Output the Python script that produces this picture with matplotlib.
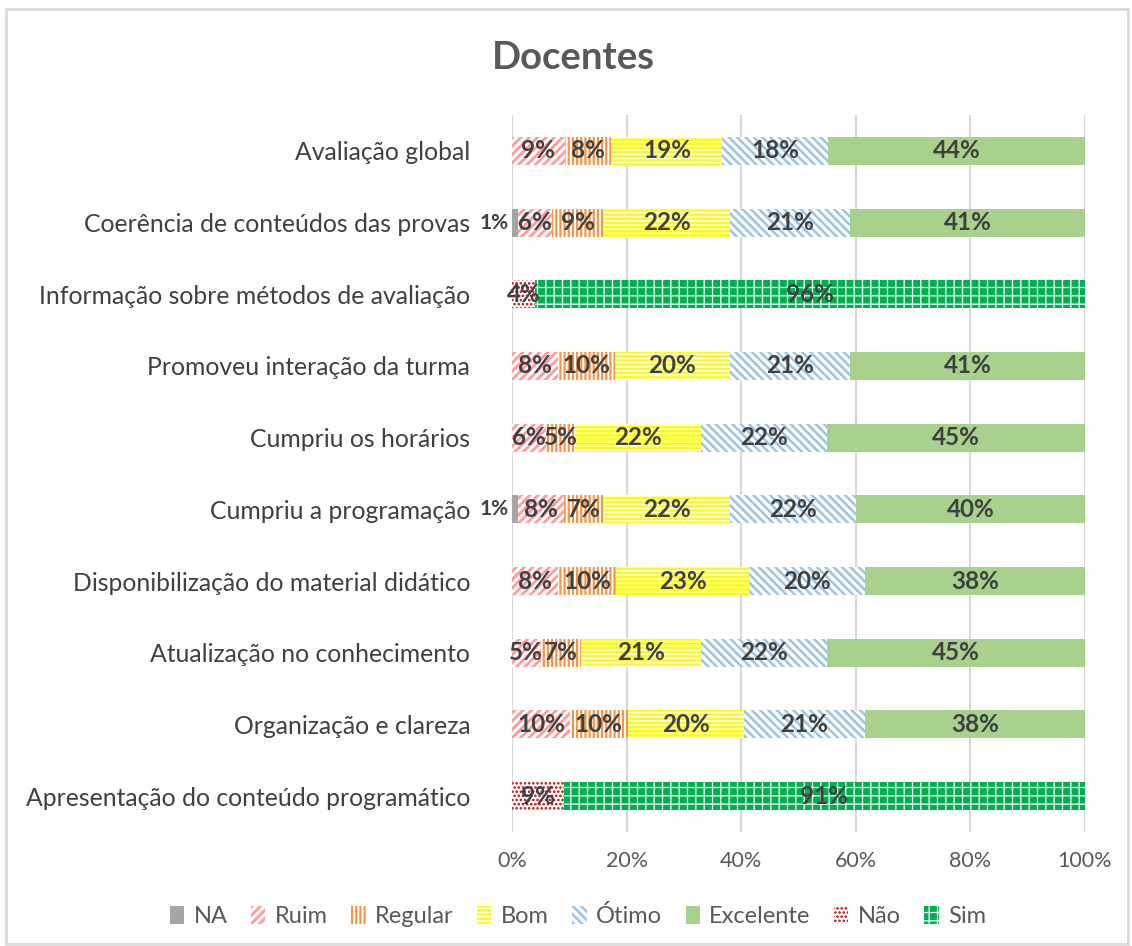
import matplotlib
matplotlib.use("Agg")
import matplotlib.pyplot as plt
import numpy as np
from matplotlib.patches import Rectangle

categories = ["Avaliação global", "Coerência de conteúdos das provas",
              "Informação sobre métodos de avaliação", "Promoveu interação da turma",
              "Cumpriu os horários", "Cumpriu a programação",
              "Disponibilização do material didático", "Atualização no conhecimento",
              "Organização e clareza", "Apresentação do conteúdo programático"]

series_names = ["NA", "Ruim", "Regular", "Bom", "Ótimo", "Excelente", "Não", "Sim"]
na        = [0, 1, 0, 0, 0, 1, 0, 0, 0, 0]
ruim      = [9, 6, 0, 8, 6, 8, 8, 5, 10, 0]
regular   = [8, 9, 0, 10, 5, 7, 10, 7, 10, 0]
bom       = [19, 22, 0, 20, 22, 22, 23, 21, 20, 0]
otimo     = [18, 21, 0, 21, 22, 22, 20, 22, 21, 0]
excelente = [44, 41, 0, 41, 45, 40, 38, 45, 38, 0]
nao       = [0, 0, 4, 0, 0, 0, 0, 0, 0, 9]
sim       = [0, 0, 96, 0, 0, 0, 0, 0, 0, 91]
xticks = [0, 20, 40, 60, 80, 100]

plt.rcParams['font.family'] = ['Lato', 'DejaVu Sans']
plt.rcParams['hatch.linewidth'] = 1.6

styles = [
    dict(facecolor='#A5A5A5', edgecolor='#A5A5A5', hatch=None, hlw=1.6),
    dict(facecolor='white', edgecolor='#FF9B9B', hatch='////', hlw=2.0),
    dict(facecolor='white', edgecolor='#F79646', hatch='||||', hlw=1.6),
    dict(facecolor='white', edgecolor='#FFFF00', hatch='----', hlw=1.8),
    dict(facecolor='white', edgecolor='#9DC3E6', hatch='\\\\\\\\', hlw=1.8),
    dict(facecolor='#A9D18E', edgecolor='#A9D18E', hatch=None, hlw=1.6),
    dict(facecolor='white', edgecolor='#C00000', hatch='....', hlw=1.2),
    dict(facecolor='#00B050', edgecolor='white', hatch='++', hlw=0.9),
]

data = np.array([na, ruim, regular, bom, otimo, excelente, nao, sim], dtype=float)
totals = data.sum(axis=0)
pct = data / totals * 100

fig = plt.figure(figsize=(11.32, 9.46), dpi=100)
ax = fig.add_axes([512/1132, 1-832/946, 573/1132, 717/946])

y = np.arange(len(categories))
left = np.zeros(len(categories))
handles = []
for i, name in enumerate(series_names):
    st = styles[i]
    bars = ax.barh(y, pct[i], left=left, height=0.39, facecolor=st['facecolor'],
                   edgecolor=st['edgecolor'], hatch=st['hatch'], linewidth=0, label=name, zorder=3)
    for p in bars.patches:
        if hasattr(p, 'set_hatch_linewidth'):
            p.set_hatch_linewidth(st['hlw'])
    handles.append(bars)
    for j in range(len(categories)):
        v = data[i][j]
        if v > 0:
            if v <= 2:
                ax.text(-0.6, y[j], f"{int(v)}%", ha='right', va='center',
                        fontsize=15, fontweight='bold', color='#404040', zorder=5)
            else:
                ax.text(left[j] + pct[i][j]/2, y[j], f"{int(v)}%", ha='center', va='center',
                        fontsize=17.5, fontweight='bold', color='#404040', zorder=5)
    left += pct[i]

ax.set_xlim(0, 100)
ax.set_ylim(len(categories) - 0.5, -0.5)
ax.set_xticks(xticks)
ax.set_xticklabels([f"{t}%" for t in xticks], fontsize=15.5, color='#595959')
ax.set_yticks(y)
ax.set_yticklabels(categories, fontsize=17.8, color='#404040')
ax.tick_params(axis='both', length=0)
ax.tick_params(axis='y', pad=30)
ax.tick_params(axis='x', pad=14)
ax.grid(axis='x', color='#D9D9D9', linewidth=1.5, zorder=0)
for s in ax.spines.values():
    s.set_visible(False)

fig.text(573/1132, 1-58/946, "Docentes", ha='center', va='center', fontsize=27.5,
         fontweight='bold', color='#595959')

leg = fig.legend(handles=handles, labels=series_names, loc='center',
                 bbox_to_anchor=(578/1132, 1-916/946), ncol=8, frameon=False,
                 fontsize=17, handlelength=0.6, handleheight=0.8, handletextpad=0.4,
                 columnspacing=1.0, labelcolor='#595959')
for k, h in enumerate(leg.legend_handles):
    if hasattr(h, 'set_hatch_linewidth'):
        h.set_hatch_linewidth(styles[k]['hlw'])

fig.patches.append(Rectangle((6/1132, 2/946), 1122/1132, 935/946, transform=fig.transFigure,
                             fill=False, edgecolor='#D9D9D9', linewidth=2))

fig.savefig("out.png", dpi=100)
